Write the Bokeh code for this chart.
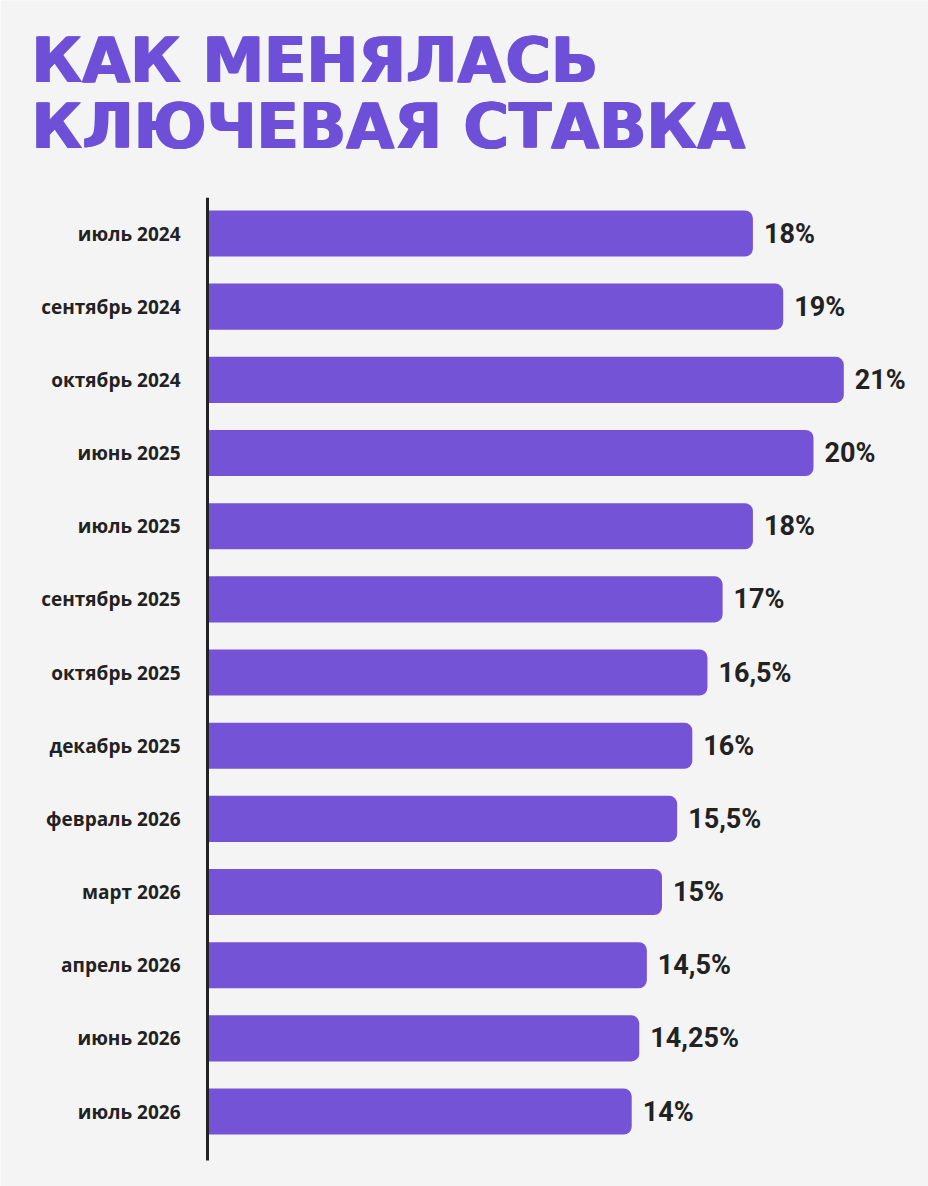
from bokeh.plotting import figure
from bokeh.models import Range1d, ColumnDataSource, Label
from bokeh.embed import file_html
from bokeh.resources import INLINE
from bokeh.core.properties import value

categories = ["июль 2024", "сентябрь 2024", "октябрь 2024", "июнь 2025", "июль 2025",
              "сентябрь 2025", "октябрь 2025", "декабрь 2025", "февраль 2026", "март 2026",
              "апрель 2026", "июнь 2026", "июль 2026"]
rates = [18, 19, 21, 20, 18, 17, 16.5, 16, 15.5, 15, 14.5, 14.25, 14]
rate_labels = ["18%", "19%", "21%", "20%", "18%", "17%", "16,5%", "16%", "15,5%", "15%",
               "14,5%", "14,25%", "14%"]
title_lines = ["КАК МЕНЯЛАСЬ", "КЛЮЧЕВАЯ СТАВКА"]

W, H = 928, 1186
PX_PER_UNIT_X = 30.3
ZERO_X = 207
ROW = 73.17
ROW0_Y = 233

BAR = "#7453D6"
TITLE = "#6E50D8"
DARK = "#222222"
BG = "#F4F4F4"

n = len(categories)
idx = list(range(n))

x_range = Range1d(-ZERO_X / PX_PER_UNIT_X, (W - ZERO_X) / PX_PER_UNIT_X)
y_range = Range1d((H - ROW0_Y) / ROW, -ROW0_Y / ROW)

p = figure(width=W, height=H, x_range=x_range, y_range=y_range,
           output_backend="svg", toolbar_location=None, min_border=0,
           background_fill_color=BG, border_fill_color=BG, outline_line_color=None)
p.xaxis.visible = False
p.yaxis.visible = False
p.grid.visible = False

src = ColumnDataSource(dict(y=idx, rate=rates, cat=categories, lab=rate_labels,
                            zero=[0] * n))

p.hbar(y="y", left="zero", right="rate", height=0.63, source=src,
       fill_color=BAR, line_color=None, border_radius=(0, 8, 8, 0))

p.segment(x0=[0], x1=[0], y0=[-0.49], y1=[n - 1 + 0.67], line_color=DARK, line_width=3)

p.text(x="zero", y="y", text="cat", source=src, x_offset=-27,
       text_align="right", text_baseline="middle", text_font=value("Open Sans"),
       text_font_style="bold", text_font_size="19px", text_color=DARK)

p.text(x="rate", y="y", text="lab", source=src, x_offset=11,
       text_align="left", text_baseline="middle", text_font=value("Roboto"),
       text_font_style="bold", text_font_size="27px", text_color=DARK)

for i, line in enumerate(title_lines):
    for dx in (0, 1, 2):
        p.add_layout(Label(x=30 + dx, y=H - (60 + i * 66), x_units="screen", y_units="screen",
                           text=line, text_align="left", text_baseline="alphabetic",
                           text_font="DejaVu Sans", text_font_style="bold",
                           text_font_size="62px", text_color=TITLE))

html = file_html(p, INLINE)
html = html.replace("<body>", '<body style="margin:0;background:#F4F4F4;">', 1)
open("out.html", "w").write(html)
